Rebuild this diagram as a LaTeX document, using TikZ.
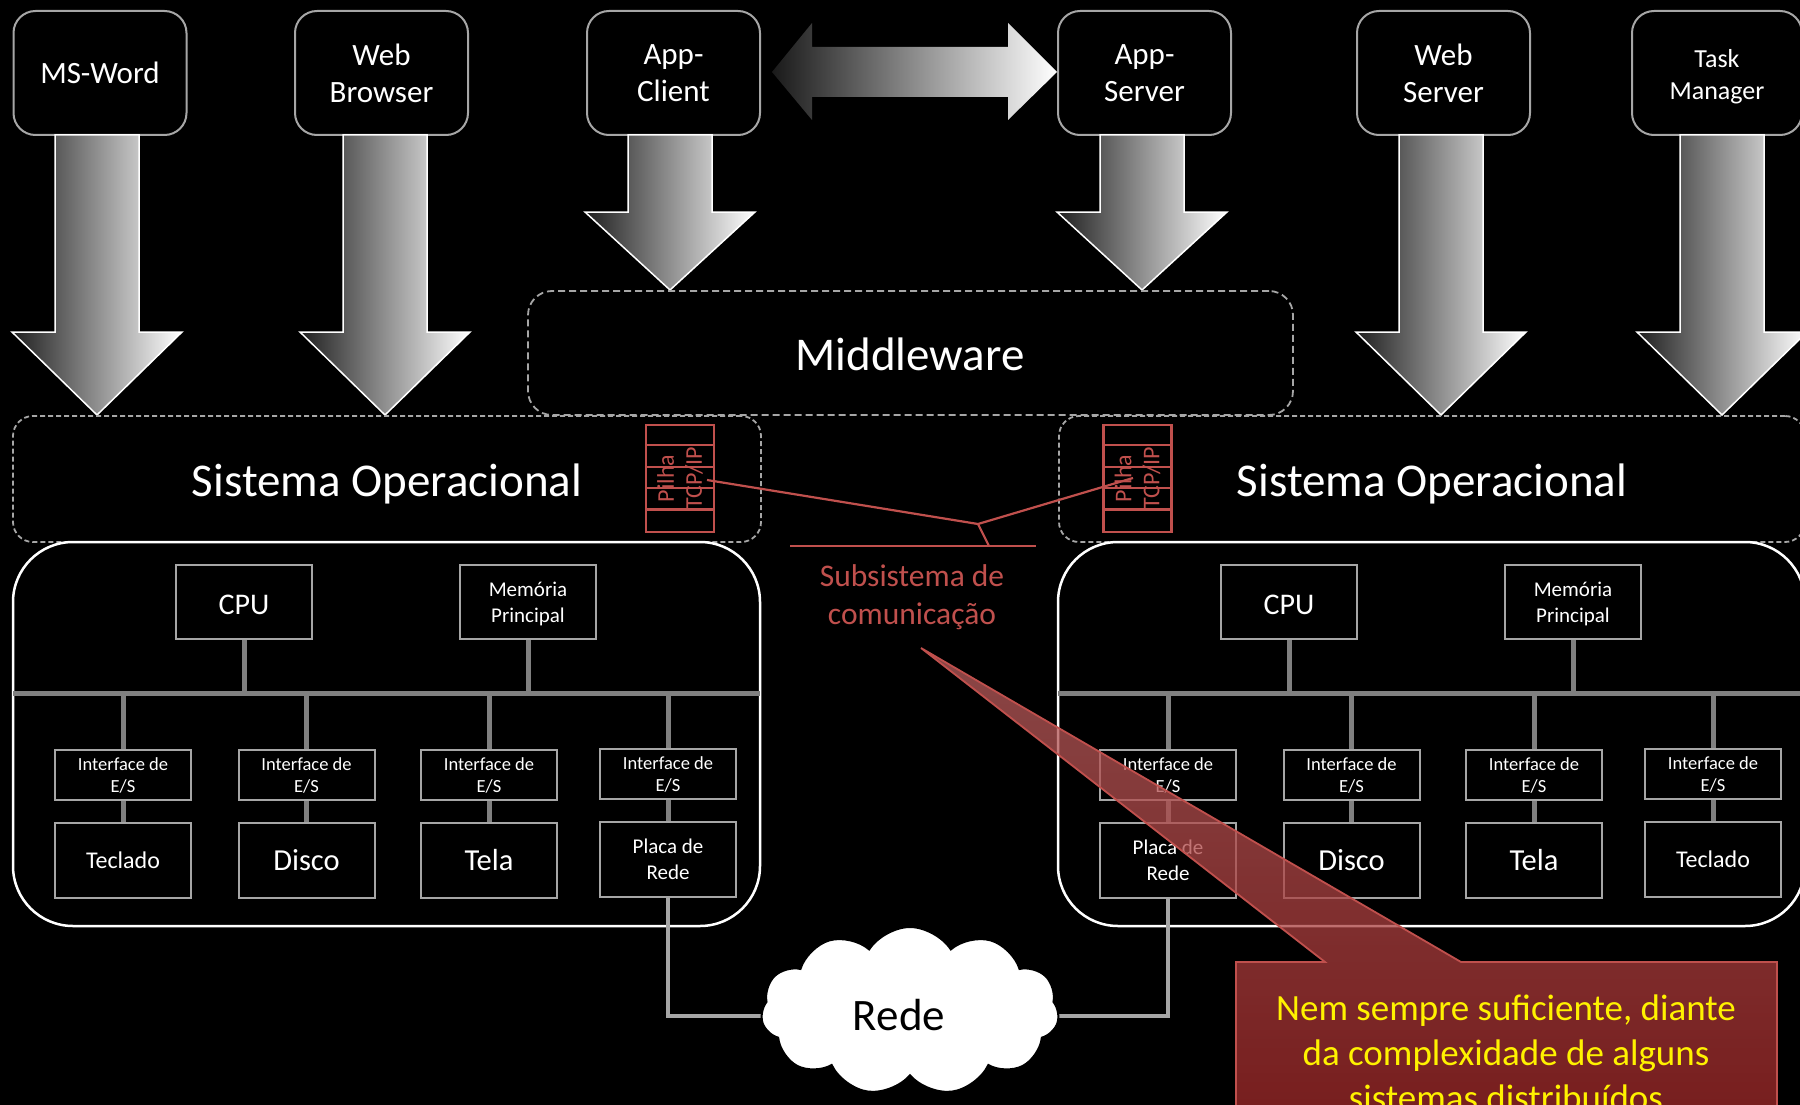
\documentclass[tikz,border=0pt]{standalone}
\usepackage{fontspec}
\setmainfont{Carlito}
\usetikzlibrary{shapes.symbols,calc}
\newcommand\fsz[2]{\fontsize{#1}{#2}\selectfont}
\definecolor{boxline}{HTML}{A6A6A6}
\definecolor{busgray}{HTML}{808080}
\definecolor{netgray}{HTML}{A6A6A6}
\definecolor{myred}{HTML}{C0504D}
\definecolor{calltop}{RGB}{185,95,95}
\definecolor{callbot}{RGB}{160,40,40}
\tikzset{
  appbox/.style={draw=boxline, line width=2pt, rounded corners=22pt, fill=black,
    minimum width=173pt, minimum height=124pt, inner sep=0pt, align=center,
    text=white, font=\fsz{31}{37}},
  bigarrow/.style={left color=gray!25!black, right color=white, draw=white, line width=1.5pt},
  dashbox/.style={draw=boxline, line width=1.8pt, dash pattern=on 7pt off 4pt,
    rounded corners=24pt, inner sep=0pt, text=white, font=\fsz{47}{56}},
  sobox/.style={dashbox, dash pattern=on 5pt off 3pt, rounded corners=20pt, minimum height=126pt},
  hwframe/.style={draw=white, line width=2.5pt, rounded corners=60pt, inner sep=0pt},
  hw/.style={draw=boxline, line width=2pt, fill=black, inner sep=0pt, align=center,
    text=white, minimum width=136pt},
  iface/.style={hw, minimum height=50pt, font=\fsz{18.5}{22}},
  dev/.style={hw, minimum height=75pt},
  bus/.style={draw=busgray, line width=5pt},
  net/.style={draw=netgray, line width=4.5pt},
  redline/.style={draw=myred, line width=2.2pt},
  stackbox/.style={draw=myred, line width=2.2pt, minimum width=68pt, minimum height=107pt, inner sep=0pt},
}
\newcommand\bigdown[3]{%
  \path[bigarrow] (#1-42,135) -- (#1+42,135) -- (#1+42,#2) -- (#1+85,#2) -- (#1,#3)
     -- (#1-85,#2) -- (#1-42,#2) -- cycle;}
\begin{document}
\begin{tikzpicture}[x=1pt,y=-1pt]
\useasboundingbox (0,0) rectangle (1800,1105);
\clip (0,0) rectangle (1800,1105);
\fill[black] (0,0) rectangle (1800,1105);

% top application boxes
\node[appbox] (msword) at (100,73) {MS-Word};
\node[appbox] (webbrowser) at (381.5,73) {Web\\Browser};
\node[appbox] (appclient) at (673.5,73) {App-\\Client};
\node[appbox] (appserver) at (1144.5,73) {App-\\Server};
\node[appbox] (webserver) at (1443.5,73) {Web\\Server};
\node[appbox, minimum width=170pt] (taskmgr) at (1717,73) {};
\node[text=white, align=center, font=\fsz{26}{32}] (taskmgrt) at (1717,76.5) {Task\\Manager};

% big down arrows
\bigdown{97}{332}{415}
\bigdown{385}{332}{415}
\bigdown{670}{212}{290}
\bigdown{1142}{212}{290}
\bigdown{1441}{332}{415}
\bigdown{1722}{332}{415}

% double arrow between App-Client and App-Server
\shade[left color=gray!20!black, right color=white]
  (772,72) -- (812,23) -- (812,47) -- (1008,47) -- (1008,23) -- (1057,72)
  -- (1008,120) -- (1008,97) -- (812,97) -- (812,120) -- cycle;

% middleware and operating systems
\node[dashbox, minimum width=765pt, minimum height=124pt] (mw) at (910.5,353) {};
\node[text=white, font=\fsz{47}{56}] (mwt) at (910,354) {Middleware};
\node[sobox, minimum width=748pt] (soL) at (387,479) {};
\node[sobox, minimum width=746pt] (soR) at (1432,479) {};
\node[text=white, font=\fsz{47}{56}] (soLt) at (387,483.5) {Sistema Operacional};
\node[text=white, font=\fsz{47}{56}] (soRt) at (1432,483.5) {Sistema Operacional};

% TCP/IP stacks
\node[stackbox] (stackL) at (680,478.5) {};
\node[stackbox] (stackR) at (1137.5,478.5) {};
\foreach \s in {stackL,stackR}{
  \foreach \k in {1,...,4}{
    \draw[redline] ([yshift=-\k*21.4pt]\s.north west) -- ([yshift=-\k*21.4pt]\s.north east);
  }
  \node[rotate=90, text=myred, font=\fsz{24}{28}, align=center, inner sep=0pt] (\s t) at (\s) {Pilha\\TCP/IP};
}

% hardware frames
\node[hwframe, minimum width=747pt, minimum height=384pt] (hwL) at (386.5,734) {};
\node[hwframe, minimum width=747pt, minimum height=384pt] (hwR) at (1431.5,734) {};

% left hardware
\coordinate (busLa) at (13,693);
\coordinate (busLb) at (760,693);
\draw[bus] (busLa) -- (busLb);
\node[hw, minimum height=74pt] (cpuL) at (244,602) {};
\node[text=white, font=\fsz{30}{36}] (cpuLt) at (244,604.5) {CPU};
\node[hw, minimum height=74pt] (memL) at (528,602) {};
\node[text=white, align=center, font=\fsz{21}{26}] (memLt) at (528,604) {Memória\\Principal};
\draw[bus] (cpuL.south) -- (cpuL.south |- busLa);
\draw[bus] (memL.south) -- (memL.south |- busLa);
\node[iface] (ifL1) at (123,775) {Interface de\\E/S};
\node[iface] (ifL2) at (306.5,775) {Interface de\\E/S};
\node[iface] (ifL3) at (489,775) {Interface de\\E/S};
\node[iface] (ifL4) at (668,774) {Interface de\\E/S};
\node[dev, font=\fsz{24}{29}] (dvL1) at (123,860.5) {Teclado};
\node[dev, font=\fsz{30.5}{36}] (dvL2) at (306.5,860.5) {Disco};
\node[dev, font=\fsz{30.5}{36}] (dvL3) at (489,860.5) {Tela};
\node[dev, font=\fsz{21}{26}] (dvL4) at (668,859.5) {Placa de\\Rede};
\foreach \i in {1,2,3,4}{
  \draw[bus] (ifL\i.north) -- (ifL\i.north |- busLa);
  \draw[bus] (ifL\i.south) -- (dvL\i.north);
}

% right hardware
\coordinate (busRa) at (1058,693);
\coordinate (busRb) at (1805,693);
\draw[bus] (busRa) -- (busRb);
\node[hw, minimum height=74pt] (cpuR) at (1289,602) {};
\node[text=white, font=\fsz{30}{36}] (cpuRt) at (1289,604.5) {CPU};
\node[hw, minimum height=74pt] (memR) at (1573,602) {};
\node[text=white, align=center, font=\fsz{21}{26}] (memRt) at (1573,604) {Memória\\Principal};
\draw[bus] (cpuR.south) -- (cpuR.south |- busRa);
\draw[bus] (memR.south) -- (memR.south |- busRa);
\node[iface] (ifR1) at (1168,775) {Interface de\\E/S};
\node[iface] (ifR2) at (1351.5,775) {Interface de\\E/S};
\node[iface] (ifR3) at (1534,775) {Interface de\\E/S};
\node[iface] (ifR4) at (1713,774) {Interface de\\E/S};
\node[dev, font=\fsz{21}{26}] (dvR1) at (1168,860.5) {Placa de\\Rede};
\node[dev, font=\fsz{30.5}{36}] (dvR2) at (1351.5,860.5) {Disco};
\node[dev, font=\fsz{30.5}{36}] (dvR3) at (1534,860.5) {Tela};
\node[dev, font=\fsz{24}{29}] (dvR4) at (1713,859.5) {Teclado};
\foreach \i in {1,2,3,4}{
  \draw[bus] (ifR\i.north) -- (ifR\i.north |- busRa);
  \draw[bus] (ifR\i.south) -- (dvR\i.north);
}

% network
\coordinate (netL) at (668,1016);
\coordinate (netR) at (1168,1016);
\coordinate (cloudL) at (800,1016);
\coordinate (cloudR) at (1020,1016);
\draw[net] (dvL4.south) -- (netL) -- (cloudL);
\draw[net] (dvR1.south) -- (netR) -- (cloudR);
\node[cloud, cloud puffs=11, cloud puff arc=115, cloud ignores aspect, fill=white, draw=black,
  line width=2pt, minimum width=298pt, minimum height=168pt, inner sep=0pt] (rede) at (910,1011) {};
\node[text=black, font=\fsz{45}{54}] (redet) at (899,1015) {Rede};

% communication subsystem
\coordinate (pL) at (707,480);
\coordinate (pR) at (1133,478);
\coordinate (jn) at (978,524);
\coordinate (jb) at (989,546);
\coordinate (ulA) at (790,546);
\coordinate (ulB) at (1036,546);
\draw[redline] (pL) -- (jn) -- (pR);
\draw[redline] (jn) -- (jb);
\draw[redline] (ulA) -- (ulB);
\node[text=myred, font=\fsz{31.5}{38}, align=center] (sub) at (912,597.5) {Subsistema de\\comunicação};

% callout
\coordinate (ctip) at (921,648);
\path[draw=myred, line width=1.8pt, top color=calltop, middle color=calltop, bottom color=callbot, fill opacity=0.75]
  (1236,962) -- (1325,962) -- (ctip) -- (1461,962) -- (1777,962) -- (1777,1120) -- (1236,1120) -- cycle;
\node[text=yellow, font=\fsz{37}{45}, align=center] (note) at (1506,1053)
  {Nem sempre suficiente, diante\\da complexidade de alguns\\sistemas distribuídos};
\end{tikzpicture}
\end{document}
